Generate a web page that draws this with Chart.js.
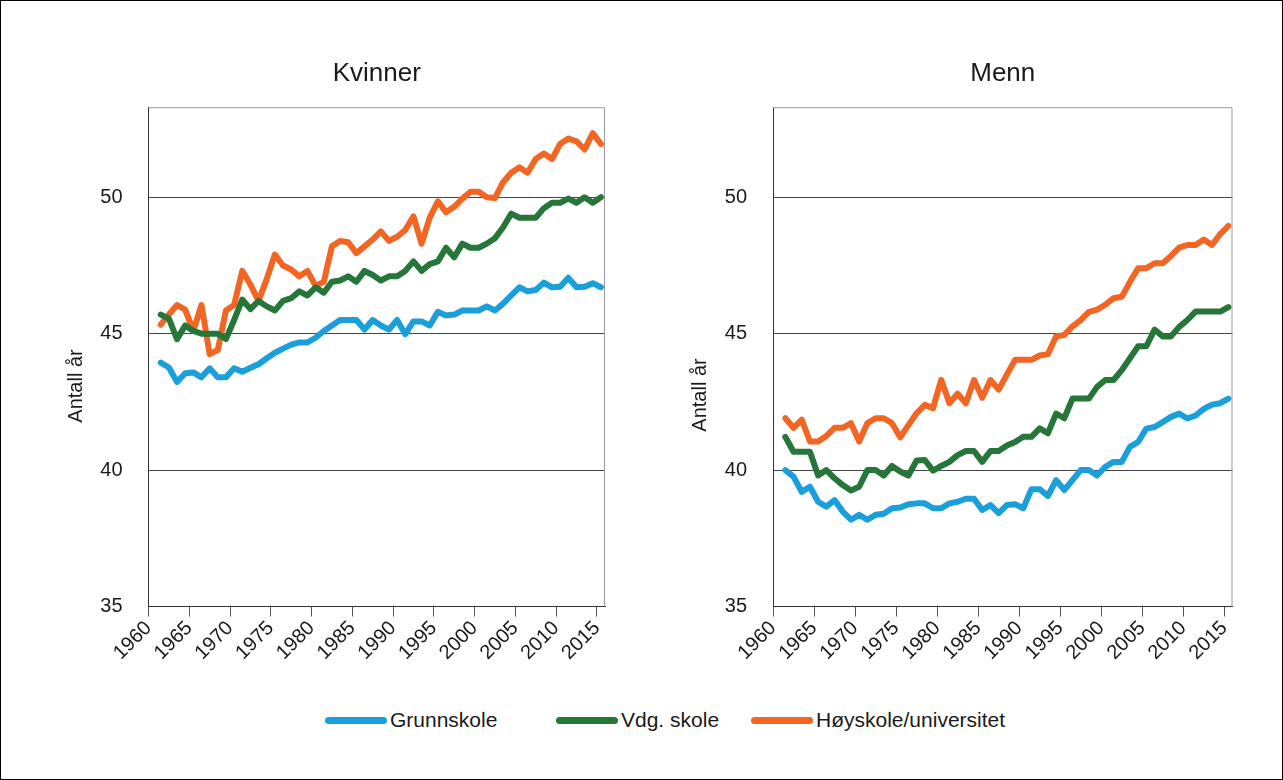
<!DOCTYPE html>
<html lang="no">
<head>
<meta charset="utf-8">
<title>Antall år</title>
<script src="https://cdn.jsdelivr.net/npm/chart.js@4.4.1/dist/chart.umd.min.js"></script>
<style>
  body { margin: 0; background: #fff; font-family: "Liberation Sans", Arial, sans-serif; }
  #page { position: relative; width: 1283px; height: 780px; overflow: hidden; }
  #frame { position: absolute; left: 0; top: 0; width: 1281px; height: 778px; border: 1px solid #000; pointer-events: none; }
  .box { position: absolute; top: 0; height: 680px; }
  #legend { position: absolute; left: 0; top: 706px; width: 1283px; height: 28px; }
  .item { position: absolute; top: 0; display: flex; align-items: center; height: 28px; font-size: 21px; color: #1a1a1a; }
  .item span.line { display: inline-block; width: 62px; height: 7px; border-radius: 4px; margin-right: 3px; }
</style>
</head>
<body>
<div id="page">
  <div class="box" style="left:0;width:640px"><canvas id="kvinner"></canvas></div>
  <div class="box" style="left:640px;width:643px"><canvas id="menn"></canvas></div>
  <div id="legend"></div>
  <div id="frame"></div>
</div>
<script>
// data (1961-2015)
const years = [1961, 1962, 1963, 1964, 1965, 1966, 1967, 1968, 1969, 1970,
               1971, 1972, 1973, 1974, 1975, 1976, 1977, 1978, 1979, 1980,
               1981, 1982, 1983, 1984, 1985, 1986, 1987, 1988, 1989, 1990,
               1991, 1992, 1993, 1994, 1995, 1996, 1997, 1998, 1999, 2000,
               2001, 2002, 2003, 2004, 2005, 2006, 2007, 2008, 2009, 2010,
               2011, 2012, 2013, 2014, 2015];

const kvGrunn = [43.94, 43.76, 43.23, 43.55, 43.58, 43.4, 43.73, 43.4, 43.4, 43.73,
                 43.6, 43.75, 43.88, 44.1, 44.3, 44.45, 44.6, 44.68, 44.68, 44.85,
                 45.1, 45.3, 45.5, 45.5, 45.5, 45.15, 45.5, 45.3, 45.15, 45.5,
                 44.98, 45.45, 45.45, 45.3, 45.8, 45.67, 45.7, 45.85, 45.85, 45.85,
                 46.0, 45.85, 46.1, 46.4, 46.7, 46.55, 46.6, 46.87, 46.7, 46.72,
                 47.05, 46.7, 46.72, 46.85, 46.7];
const kvVdg = [45.7, 45.55, 44.8, 45.3, 45.1, 45.0, 45.0, 45.0, 44.8, 45.5,
               46.25, 45.9, 46.2, 46.0, 45.85, 46.2, 46.3, 46.55, 46.4, 46.7,
               46.5, 46.9, 46.95, 47.1, 46.9, 47.3, 47.15, 46.95, 47.1, 47.1,
               47.3, 47.65, 47.3, 47.55, 47.65, 48.15, 47.8, 48.3, 48.15, 48.15,
               48.3, 48.5, 48.9, 49.4, 49.25, 49.25, 49.25, 49.6, 49.8, 49.8,
               49.95, 49.8, 50.0, 49.8, 50.0];
const kvHoy = [45.33, 45.7, 46.05, 45.88, 45.1, 46.05, 44.25, 44.4, 45.85, 46.05,
               47.3, 46.8, 46.2, 47.0, 47.9, 47.5, 47.35, 47.1, 47.3, 46.75,
               46.9, 48.2, 48.4, 48.35, 47.95, 48.2, 48.45, 48.75, 48.4, 48.55,
               48.8, 49.3, 48.3, 49.25, 49.85, 49.45, 49.65, 49.95, 50.2, 50.2,
               50.0, 49.97, 50.55, 50.9, 51.1, 50.9, 51.4, 51.6, 51.4, 51.95,
               52.15, 52.05, 51.75, 52.35, 51.95];

const mnGrunn = [40.0, 39.76, 39.2, 39.39, 38.84, 38.66, 38.9, 38.48, 38.18, 38.36,
                 38.18, 38.36, 38.4, 38.6, 38.63, 38.75, 38.78, 38.78, 38.6, 38.6,
                 38.78, 38.84, 38.95, 38.95, 38.54, 38.72, 38.42, 38.72, 38.75, 38.6,
                 39.3, 39.3, 39.05, 39.63, 39.27, 39.63, 40.0, 40.0, 39.8, 40.12,
                 40.3, 40.3, 40.85, 41.03, 41.52, 41.58, 41.76, 41.95, 42.07, 41.89,
                 42.0, 42.24, 42.4, 42.45, 42.62];
const mnVdg = [41.22, 40.67, 40.67, 40.67, 39.8, 40.0, 39.7, 39.45, 39.25, 39.39,
               40.0, 40.0, 39.8, 40.15, 39.95, 39.8, 40.35, 40.37, 39.98, 40.15,
               40.3, 40.55, 40.7, 40.7, 40.3, 40.7, 40.7, 40.9, 41.03, 41.22,
               41.22, 41.53, 41.35, 42.07, 41.9, 42.62, 42.62, 42.62, 43.05, 43.3,
               43.3, 43.66, 44.1, 44.54, 44.54, 45.15, 44.9, 44.9, 45.25, 45.5,
               45.81, 45.81, 45.81, 45.81, 45.97];
const mnHoy = [41.9, 41.55, 41.85, 41.05, 41.05, 41.25, 41.55, 41.55, 41.72, 41.05,
               41.72, 41.9, 41.9, 41.72, 41.2, 41.65, 42.08, 42.39, 42.27, 43.31,
               42.45, 42.8, 42.45, 43.3, 42.65, 43.3, 42.95, 43.5, 44.04, 44.04,
               44.04, 44.2, 44.25, 44.9, 44.95, 45.27, 45.5, 45.8, 45.88, 46.06,
               46.3, 46.35, 46.9, 47.4, 47.4, 47.58, 47.58, 47.85, 48.15, 48.25,
               48.25, 48.45, 48.25, 48.65, 48.95];

const seriesNames = ['Grunnskole', 'Vdg. skole', 'Høyskole/universitet'];
const seriesColors = ['#1b9fdb', '#26763a', '#f26522'];
const xTicks = [1960, 1965, 1970, 1975, 1980, 1985, 1990, 1995, 2000, 2005, 2010, 2015];
const yTicks = [35, 40, 45, 50];
const yTitle = 'Antall år';

const FONT = '"Liberation Sans", Arial, sans-serif';
Chart.defaults.font.family = FONT;
Chart.defaults.color = '#1a1a1a';

// grå ramme oppe og til høyre for plottet
const plotFrame = {
    id: 'plotFrame',
    beforeDatasetsDraw(chart) {
        const {ctx, chartArea: a} = chart;
        ctx.save();
        ctx.strokeStyle = '#9a9a9a';
        ctx.lineWidth = 1;
        ctx.beginPath();
        ctx.moveTo(a.left, a.top + 0.5);
        ctx.lineTo(a.right - 0.5, a.top + 0.5);
        ctx.lineTo(a.right - 0.5, a.bottom);
        ctx.stroke();
        ctx.restore();
    }
};

// y-aksetittel, litt under midten av aksen som i originalen
const axisLabel = {
    id: 'axisLabel',
    afterDraw(chart, args, opts) {
        const ctx = chart.ctx;
        ctx.save();
        ctx.translate(opts.x, opts.y);
        ctx.rotate(-Math.PI / 2);
        ctx.font = '20px ' + FONT;
        ctx.fillStyle = '#1a1a1a';
        ctx.textAlign = 'center';
        ctx.textBaseline = 'middle';
        ctx.fillText(opts.text, 0, 0);
        ctx.restore();
    }
};

function lineChart(id, title, values, g) {
    // punktene ligger midt i året
    const datasets = values.map((vals, i) => ({
        label: seriesNames[i],
        data: vals.map((v, j) => ({x: years[j] + 0.5, y: v})),
        borderColor: seriesColors[i],
        borderWidth: 6,
        borderCapStyle: 'round',
        borderJoinStyle: 'round',
        pointRadius: 0,
        tension: 0,
        clip: false
    }));

    return new Chart(document.getElementById(id), {
        type: 'line',
        data: {datasets},
        plugins: [plotFrame, axisLabel],
        options: {
            responsive: true,
            maintainAspectRatio: false,
            animation: false,
            layout: {padding: {left: 0, right: g.padRight, top: 0, bottom: 0}},
            plugins: {
                legend: {display: false},
                tooltip: {enabled: false},
                title: {
                    display: true,
                    text: title,
                    fullSize: false,
                    color: '#1a1a1a',
                    font: {size: 26, weight: 'normal'},
                    padding: {top: 58, bottom: 18}
                },
                axisLabel: {text: yTitle, x: g.labelX, y: g.labelY}
            },
            scales: {
                x: {
                    type: 'linear',
                    min: 1960,
                    max: 2016,
                    afterBuildTicks: ax => { ax.ticks = xTicks.map(v => ({value: v})); },
                    afterFit: ax => { ax.height = g.xHeight; },
                    ticks: {
                        minRotation: 45,
                        maxRotation: 45,
                        padding: 0,
                        font: {size: 20},
                        callback: v => String(v)
                    },
                    grid: {drawOnChartArea: false, drawTicks: true, tickLength: 10, color: '#555'},
                    border: {display: true, color: '#333'}
                },
                y: {
                    min: 35,
                    max: 53.3,
                    afterBuildTicks: ax => { ax.ticks = yTicks.map(v => ({value: v})); },
                    afterFit: ax => { ax.width = g.yWidth; },
                    ticks: {padding: 26, font: {size: 20}, callback: v => String(v)},
                    grid: {drawTicks: false, color: '#444'},
                    border: {display: true, color: '#333'}
                }
            }
        }
    });
}

lineChart('kvinner', 'Kvinner', [kvGrunn, kvVdg, kvHoy],
          {yWidth: 148.5, padRight: 35, xHeight: 73.5, labelX: 76, labelY: 386});
lineChart('menn', 'Menn', [mnGrunn, mnVdg, mnHoy],
          {yWidth: 133, padRight: 50.5, xHeight: 73.5, labelX: 60, labelY: 395});

// felles forklaring under begge diagrammene
const legendLeft = [325, 556, 751];
const legend = document.getElementById('legend');
seriesNames.forEach((name, i) => {
    const item = document.createElement('div');
    item.className = 'item';
    item.style.left = legendLeft[i] + 'px';
    const line = document.createElement('span');
    line.className = 'line';
    line.style.background = seriesColors[i];
    item.appendChild(line);
    item.appendChild(document.createTextNode(name));
    legend.appendChild(item);
});
</script>
</body>
</html>
